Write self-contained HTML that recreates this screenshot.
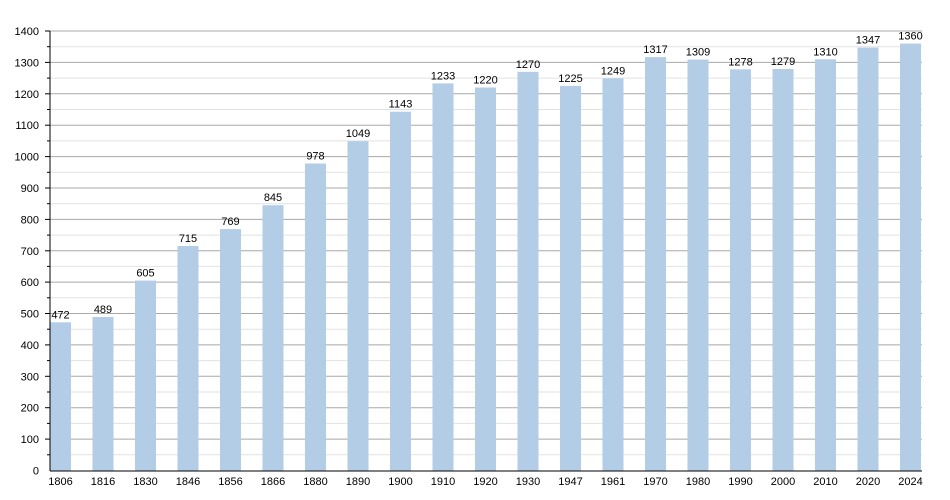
<!DOCTYPE html>
<html><head><style>body{margin:0;background:#fff}svg{display:block}text{font-family:"Liberation Sans",sans-serif;font-size:11px;fill:#000}</style></head>
<body>
<svg width="950" height="500" xmlns="http://www.w3.org/2000/svg" id="s"></svg>
<script>
const s=document.getElementById('s');
const vals=[472,489,605,715,769,845,978,1049,1143,1233,1220,1270,1225,1249,1317,1309,1278,1279,1310,1347,1360];
const yrs=[1806,1816,1830,1846,1856,1866,1880,1890,1900,1910,1920,1930,1947,1961,1970,1980,1990,2000,2010,2020,2024];
const y0=470.5,k=(470.5-31)/1400;let h='';
for(let v=50;v<=1400;v+=50){const y=(y0-v*k).toFixed(1);
 if(v%100==0){h+=`<line x1="50" x2="922" y1="${y}" y2="${y}" stroke="#a8a8a8" stroke-width="1"/><line x1="45" x2="50" y1="${y}" y2="${y}" stroke="#000"/><text x="39" y="${+y+4}" text-anchor="end">${v}</text>`;}
 else{h+=`<line x1="50" x2="922" y1="${y}" y2="${y}" stroke="#e2e2e2" stroke-width="1"/><line x1="47" x2="50" y1="${y}" y2="${y}" stroke="#000"/>`;}}
h+=`<text x="39" y="${y0+4}" text-anchor="end">0</text>`;
vals.forEach((v,i)=>{const x=50+i*42.5,y=y0-v*k;
 h+=`<rect x="${x}" y="${y.toFixed(1)}" width="21" height="${(v*k).toFixed(1)}" fill="#b3cde6"/>`;
 h+=`<text x="${x+10.5}" y="${(y-4).toFixed(1)}" text-anchor="middle">${v}</text>`;
 h+=`<text x="${x+10.5}" y="485" text-anchor="middle">${yrs[i]}</text>`;});
h+=`<line x1="50" x2="50" y1="31" y2="471" stroke="#000"/><line x1="50" x2="922" y1="471" y2="471" stroke="#000"/>`;
s.innerHTML=h;
</script>
</body></html>
